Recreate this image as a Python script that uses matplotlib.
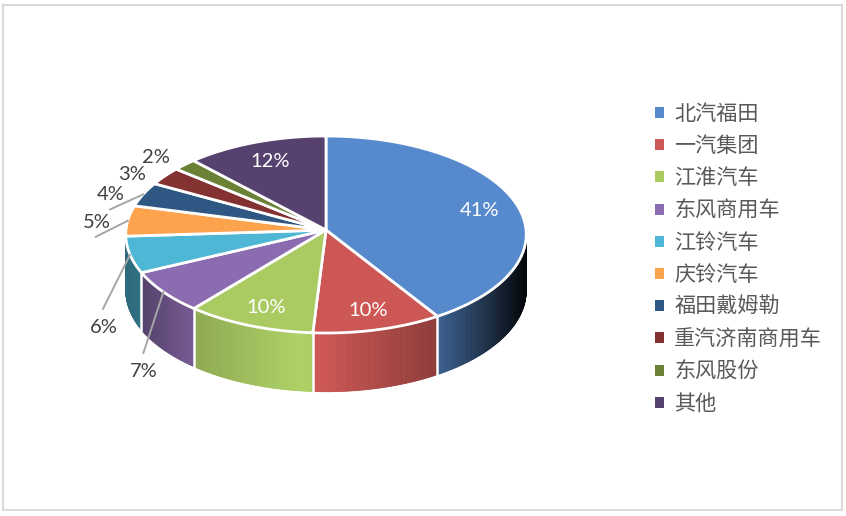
import numpy as np
import matplotlib
matplotlib.use("Agg")
import matplotlib.pyplot as plt
from matplotlib.collections import PolyCollection
from matplotlib.patches import Patch, Polygon, Rectangle
from matplotlib.colors import to_rgb

categories = ["北汽福田", "一汽集团", "江淮汽车", "东风商用车", "江铃汽车",
              "庆铃汽车", "福田戴姆勒", "重汽济南商用车", "东风股份", "其他"]
values = [41, 10, 10, 7, 6, 5, 4, 3, 2, 12]
colors = ["#578ACD", "#CD5754", "#A9CB62", "#8C6CB0", "#4EB7D5",
          "#FDA24D", "#2F5783", "#843131", "#6A8136", "#57416E"]

# ---- projection / styling ----
CX, CY, A, B, K, DEPTH = 326, 230, 200, 98.3, 0.0457, 56
SHADE_X = [125, 143, 196, 300, 320, 440, 480, 525]
SHADE_F = [0.58, 0.62, 0.84, 1.03, 1.00, 0.68, 0.40, 0.05]
WALL_SLICES = 5  # slices whose outer wall faces the viewer
inner_r = 0.8
text_off = [None, None, None, (-21, 78), (-27, 71), (-32, 0), (-33, -2), (-34, -4), (-30, -9), None]
leader_off = [None, None, None, (-20, 61), (-27, 54), (-32, 16), (-33, 15), None, None, None]
TEXT_NUDGE = (1, 2)


def proj(theta, r=1.0, drop=0.0):
    u, v = r * np.sin(theta), r * np.cos(theta)
    w = 1 + K * v
    return CX + A * u / w, CY - B * v / w + drop / w


fig = plt.figure(figsize=(8.46, 5.16), dpi=100)
ax = fig.add_axes([0, 0, 1, 1])
ax.set_xlim(0, 846)
ax.set_ylim(516, 0)
ax.axis("off")
ax.add_patch(Rectangle((3, 5), 839, 505, fc="white", ec="#d9d9d9", lw=1.5, zorder=0))

edges = np.cumsum([0] + values) / sum(values) * 2 * np.pi

# side walls
for i, col in enumerate(colors[:WALL_SLICES]):
    t0, t1 = max(edges[i], np.pi / 2), edges[i + 1]
    ts = np.linspace(t0, t1, max(int((t1 - t0) * 120), 2))
    xt, yt = proj(ts)
    xb, yb = proj(ts, drop=DEPTH)
    polys, fcs = [], []
    base = np.array(to_rgb(col))
    for j in range(len(ts) - 1):
        polys.append([(xt[j], yt[j]), (xt[j + 1], yt[j + 1]), (xb[j + 1], yb[j + 1]), (xb[j], yb[j])])
        f = np.interp((xt[j] + xt[j + 1]) / 2, SHADE_X, SHADE_F)
        fcs.append(np.clip(base * f, 0, 1))
    ax.add_collection(PolyCollection(polys, facecolors=fcs, edgecolors=fcs, linewidths=0.6, zorder=2))
    if i < WALL_SLICES - 1:
        ax.plot([xt[-1], xb[-1]], [yt[-1], yb[-1]], color="white", lw=1.8, zorder=3)

# top faces
for i, col in enumerate(colors):
    ts = np.linspace(edges[i], edges[i + 1], 80)
    xs, ys = proj(ts)
    pts = np.column_stack([np.r_[CX, xs], np.r_[CY, ys]])
    ax.add_patch(Polygon(pts, closed=True, fc=col, ec="white", lw=2, joinstyle="round", zorder=4))

# labels
for i, val in enumerate(values):
    mid = (edges[i] + edges[i + 1]) / 2
    if text_off[i] is None:
        x, y = proj(mid, r=inner_r)
        ax.text(x + TEXT_NUDGE[0], y + TEXT_NUDGE[1], f"{val}%", color="white", fontsize=14.5,
                family="Lato", ha="center", va="center", zorder=6)
    else:
        x, y = proj(mid)
        dx, dy = text_off[i]
        ax.text(x + dx + TEXT_NUDGE[0], y + dy + TEXT_NUDGE[1], f"{val}%", color="#404040", fontsize=14.5,
                family="Lato", ha="center", va="center", zorder=6)
        if leader_off[i] is not None:
            lx, ly = leader_off[i]
            ax.plot([x, x + lx], [y, y + ly], color="#a6a6a6", lw=1.4, zorder=5)

handles = [Patch(fc=c, ec="none") for c in colors]
ax.legend(handles, categories, loc="upper left", bbox_to_anchor=(655 / 846, 1 - 103 / 516),
          frameon=False, prop={"family": ["Noto Sans CJK SC", "DejaVu Sans"], "size": 15.2},
          labelcolor="#595959", handlelength=0.43, handleheight=0.43, handletextpad=0.48,
          labelspacing=0.483, borderpad=0, borderaxespad=0)

fig.savefig("out.png", dpi=100)
